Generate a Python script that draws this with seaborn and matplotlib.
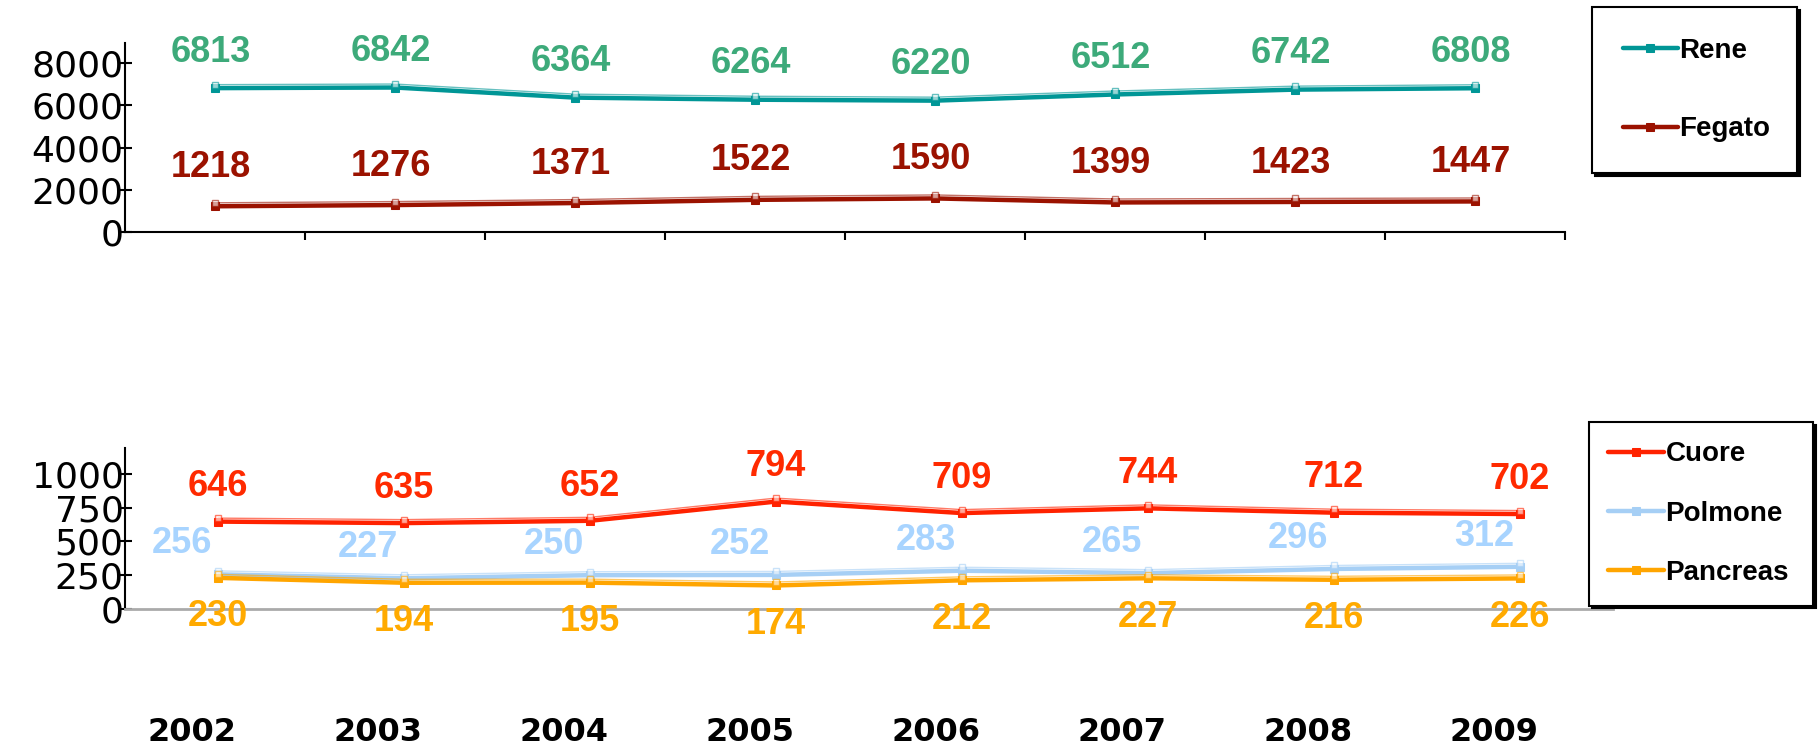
"""
Trapianti per organo 2002-2009: reni/fegato sopra, cuore/polmone/pancreas sotto
"""
import numpy as np
import pandas as pd
import matplotlib
matplotlib.use('Agg')
import matplotlib.pyplot as plt
import matplotlib.transforms as mtrans
import seaborn as sns

years = ['2002', '2003', '2004', '2005', '2006', '2007', '2008', '2009']
rene = [6813, 6842, 6364, 6264, 6220, 6512, 6742, 6808]
fegato = [1218, 1276, 1371, 1522, 1590, 1399, 1423, 1447]
cuore = [646, 635, 652, 794, 709, 744, 712, 702]
polmone = [256, 227, 250, 252, 283, 265, 296, 312]
pancreas = [230, 194, 195, 174, 212, 227, 216, 226]

top_ticks = [0, 2000, 4000, 6000, 8000]
bottom_ticks = [0, 250, 500, 750, 1000]

sns.set_theme(style='white')
plt.rcParams['font.family'] = ['DejaVu Sans']
plt.rcParams['text.color'] = 'black'
plt.rcParams['xtick.color'] = 'black'
plt.rcParams['ytick.color'] = 'black'

fig = plt.figure(figsize=(18.2, 7.48), dpi=100)
ax1 = fig.add_axes([125 / 1820, 1 - 232 / 748, 1440 / 1820, 189 / 748])
ax2 = fig.add_axes([125 / 1820, 1 - 609 / 748, 1488 / 1820, 161 / 748])

xs = np.arange(len(years))
df = pd.DataFrame({'x': xs, 'Rene': rene, 'Fegato': fegato, 'Cuore': cuore,
                   'Polmone': polmone, 'Pancreas': pancreas})

# (serie, asse, colore linea, colore etichetta, dx, dy in punti)
series = [
    ('Rene', ax1, '#009696', '#3DAA7A', -3, 26),
    ('Fegato', ax1, '#9B1200', '#9B1200', -3, 28),
    ('Cuore', ax2, '#FF2200', '#FF2A00', 0, 25),
    ('Polmone', ax2, '#A6CFF5', '#A8D4FF', -26, 22),
    ('Pancreas', ax2, '#FFA500', '#FFAA00', 0, -28),
]

lab_font = dict(family='Liberation Sans', weight='bold', size=26)

for name, ax, lc, tc, dx, dy in series:
    sns.lineplot(data=df, x='x', y=name, ax=ax, color=lc, lw=3.2,
                 marker='s', markersize=6, markeredgecolor=lc, label=name)
    # sottile linea "fantasma" come nell'originale
    ghost = mtrans.offset_copy(ax.transData, fig=fig, x=0, y=2.5, units='points')
    ax.plot(df['x'], df[name], color=lc, lw=1, alpha=0.6, transform=ghost,
            marker='s', markersize=5, markerfacecolor='white', markeredgecolor=lc)
    for x, v in zip(df['x'], df[name]):
        ax.annotate(str(v), (x, v), xytext=(dx, dy), textcoords='offset points',
                    ha='center', va='center', color=tc, **lab_font)

for ax in (ax1, ax2):
    ax.set_xlim(-0.5, 7.5)
    ax.set_xlabel('')
    ax.set_ylabel('')
    for s in ('top', 'right'):
        ax.spines[s].set_visible(False)
    ax.spines['left'].set_color('black')
    ax.spines['left'].set_linewidth(1.5)
    ax.tick_params(axis='y', direction='inout', length=10, width=1.5,
                   labelsize=26, pad=-4, left=True, colors='black')
    ax.get_legend().remove()

ax1.set_ylim(0, 8950)
ax1.set_yticks(top_ticks)
ax1.set_xticks(xs + 0.5)
ax1.set_xticklabels([])
ax1.spines['bottom'].set_color('black')
ax1.spines['bottom'].set_linewidth(1.5)
ax1.tick_params(axis='x', direction='out', length=6, width=1.5, bottom=True)

ax2.set_ylim(0, 1190)
ax2.set_yticks(bottom_ticks)
ax2.set_xticks(xs)
ax2.set_xticklabels(years, fontsize=23, fontweight='bold', color='black')
ax2.spines['bottom'].set_color('#AAAAAA')
ax2.spines['bottom'].set_linewidth(2)
ax2.tick_params(axis='x', length=0, pad=78)
shift = mtrans.ScaledTranslation(-26 / 100, 0, fig.dpi_scale_trans)
for t in ax2.get_xticklabels():
    t.set_transform(t.get_transform() + shift)

leg_font = dict(family='Liberation Sans', weight='bold', size=20)
h1, l1 = ax1.get_legend_handles_labels()
leg1 = fig.legend(h1[:2], l1[:2], loc='upper left',
                  bbox_to_anchor=(1592 / 1820, 1 - 7 / 748 - 0.01, 205 / 1820, 0.01),
                  mode='expand', prop=leg_font, frameon=True, fancybox=False,
                  edgecolor='black', framealpha=1, labelspacing=1.9, borderpad=1.1,
                  handlelength=2.0, handletextpad=0.05, borderaxespad=0,
                  shadow={'color': 'black', 'alpha': 1})
leg1.get_frame().set_linewidth(1.5)

h2, l2 = ax2.get_legend_handles_labels()
leg2 = fig.legend(h2[:3], l2[:3], loc='upper left',
                  bbox_to_anchor=(1589 / 1820, 1 - 422 / 748 - 0.01, 224 / 1820, 0.01),
                  mode='expand', prop=leg_font, frameon=True, fancybox=False,
                  edgecolor='black', framealpha=1, labelspacing=1.2, borderpad=0.7,
                  handlelength=2.0, handletextpad=0.05, borderaxespad=0,
                  shadow={'color': 'black', 'alpha': 1})
leg2.get_frame().set_linewidth(1.5)

fig.savefig('out.png', dpi=100, facecolor='white')
